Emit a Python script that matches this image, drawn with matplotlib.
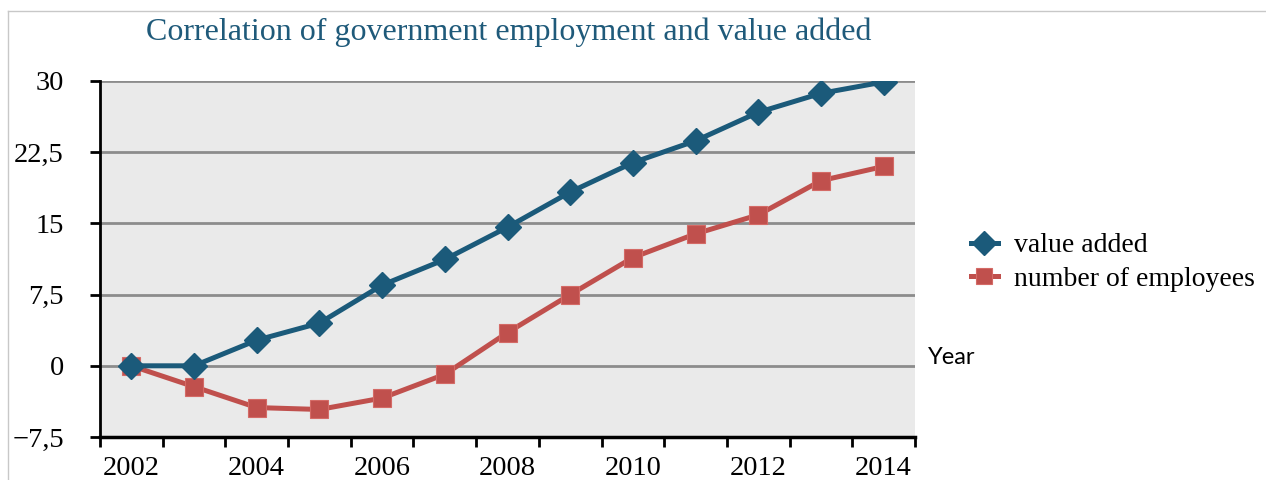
"""
Line chart: government employment versus value added, 2002-2014.
"""

import matplotlib.pyplot as plt
from matplotlib.lines import Line2D

years = list(range(2002, 2015))
value_added = [0, 0, 2.7, 4.5, 8.5, 11.2, 14.6, 18.3, 21.4, 23.7, 26.7, 28.7, 29.9]
employees = [0, -2.2, -4.4, -4.6, -3.4, -0.9, 3.5, 7.5, 11.4, 13.9, 15.9, 19.5, 21.0]
y_ticks = [-7.5, 0, 7.5, 15, 22.5, 30]
y_labels = ['\u22127,5', '0', '7,5', '15', '22,5', '30']

BLUE = '#1b5a7a'
RED = '#c0504d'
SERIF = ['Liberation Serif', 'DejaVu Serif']


def main():
    fig = plt.figure(figsize=(12.66, 4.8), dpi=100)
    ax = fig.add_axes([100 / 1266, 43 / 480, 815 / 1266, 356 / 480])
    ax.set_facecolor('#eaeaea')

    xs = list(range(len(years)))
    ax.plot(xs, value_added, color=BLUE, lw=3.6, marker='D', ms=13,
            mec=BLUE, label='value added', zorder=4)
    ax.plot(xs, employees, color=RED, lw=3.6, marker='s', ms=12.5,
            mec='#d46a66', mew=0.8, label='number of employees', zorder=3)

    ax.set_xlim(-0.5, len(years) - 0.5)
    ax.set_ylim(-7.5, 30)
    ax.set_yticks(y_ticks)
    ax.set_yticklabels(y_labels, family=SERIF, fontsize=20.5)
    for y in y_ticks[1:]:
        ax.axhline(y, color='#8c8c8c', lw=2, zorder=1)

    # category axis: ticks between years, label every other year
    ax.set_xticks([i - 0.5 for i in range(len(years) + 1)])
    ax.set_xticklabels([])
    ax.set_xticks(xs[::2], minor=True)
    ax.set_xticklabels([str(y) for y in years[::2]], minor=True,
                       family=SERIF, fontsize=20.5)
    ax.tick_params(axis='x', which='major', length=7, width=2, direction='out')
    ax.tick_params(axis='x', which='minor', length=0, pad=14)
    ax.tick_params(axis='y', length=7, width=2, pad=19)

    for side in ('top', 'right'):
        ax.spines[side].set_visible(False)
    ax.spines['left'].set_linewidth(2)
    ax.spines['bottom'].set_linewidth(2.5)

    fig.text(0.4015, 1 - 32 / 480, 'Correlation of government employment and value added',
             ha='center', va='center', family=SERIF, fontsize=23, color='#1f5a7a')
    fig.text(928 / 1266, 1 - 358 / 480, 'Year', ha='left', va='center',
             family=['Lato', 'DejaVu Sans'], fontsize=17)

    ax.legend(loc='center left', bbox_to_anchor=(1.069, 0.49), frameon=False,
              prop={'family': SERIF, 'size': 20}, handlelength=0.95,
              handletextpad=0.6, labelspacing=0.3, markerscale=0.95,
              borderpad=0, borderaxespad=0)

    # thin frame around the chart area
    fig.add_artist(Line2D([8 / 1266, 1], [1 - 11 / 480] * 2,
                          transform=fig.transFigure, color='#c8c8c8', lw=1))
    fig.add_artist(Line2D([8 / 1266] * 2, [0, 1 - 11 / 480],
                          transform=fig.transFigure, color='#c8c8c8', lw=1))

    fig.savefig('out.png', dpi=100)
    plt.close('all')


if __name__ == '__main__':
    main()
